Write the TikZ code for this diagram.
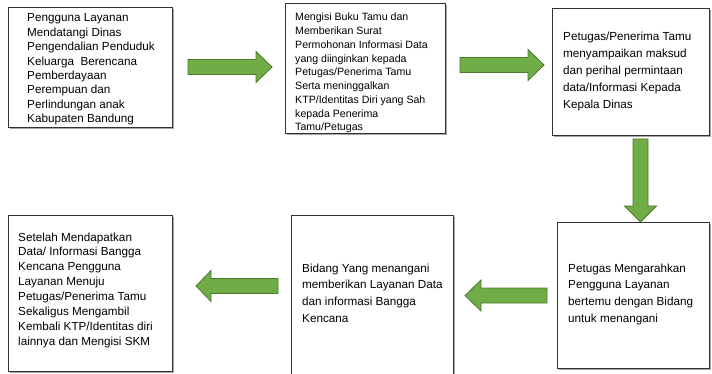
\documentclass[tikz,border=0pt]{standalone}
\usepackage{fontspec}
\setmainfont{Liberation Sans}
\usetikzlibrary{shadows}
\definecolor{agreen}{HTML}{70AD47}
\definecolor{agreenb}{HTML}{4A7A2C}
\definecolor{boxline}{HTML}{333333}
\newcommand\mylines[3]{{\fontsize{#1}{#2}\selectfont\begin{tabular}[t]{@{}l@{}}#3\end{tabular}}}
\begin{document}
\begin{tikzpicture}[x=1pt,y=-1pt,
  box/.style={draw=boxline, line width=0.8pt, fill=white, inner sep=0pt, anchor=north west,
    drop shadow={shadow xshift=1.6pt, shadow yshift=-1.6pt, fill=black, opacity=0.35}},
  txt/.style={anchor=base west, inner sep=0pt},
  barrow/.style={draw=agreenb, fill=agreen, line width=0.8pt, line join=miter}]
\useasboundingbox (0,0) rectangle (712,374);
% boxes
\node[box, minimum width=164pt, minimum height=120pt] (b1) at (8,7) {};
\node[box, minimum width=160pt, minimum height=130pt] (b2) at (285,3) {};
\node[box, minimum width=157pt, minimum height=127pt] (b3) at (552,8) {};
\node[box, minimum width=164pt, minimum height=156pt] (b4) at (8,215) {};
\node[box, minimum width=162pt, minimum height=162pt] (b5) at (291,215) {};
\node[box, minimum width=152pt, minimum height=146pt] (b6) at (557,222) {};
% texts
\node[txt] (t1) at (27,22) {\mylines{11.7}{14.4}{Pengguna Layanan\\Mendatangi Dinas\\Pengendalian Penduduk\\Keluarga~~Berencana\\Pemberdayaan\\Perempuan dan\\Perlindungan anak\\Kabupaten Bandung}};
\node[txt] (t2) at (295,21) {\mylines{10.6}{13.75}{Mengisi Buku Tamu dan\\Memberikan Surat\\Permohonan Informasi Data\\yang diinginkan kepada\\Petugas/Penerima Tamu\\Serta meninggalkan\\KTP/Identitas Diri yang Sah\\kepada Penerima\\Tamu/Petugas}};
\node[txt] (t3) at (563,41) {\mylines{11.7}{17}{Petugas/Penerima Tamu\\menyampaikan maksud\\dan perihal permintaan\\data/Informasi Kepada\\Kepala Dinas}};
\node[txt] (t4) at (18,241) {\mylines{11.7}{14.86}{Setelah Mendapatkan\\Data/ Informasi Bangga\\Kencana Pengguna\\Layanan Menuju\\Petugas/Penerima Tamu\\Sekaligus Mengambil\\Kembali KTP/Identitas diri\\lainnya dan Mengisi SKM}};
\node[txt] (t5) at (302,272) {\mylines{11.7}{16.7}{Bidang Yang menangani\\memberikan Layanan Data\\dan informasi Bangga\\Kencana}};
\node[txt] (t6) at (568,272) {\mylines{11.7}{16.7}{Petugas Mengarahkan\\Pengguna Layanan\\bertemu dengan Bidang\\untuk menangani}};
% block arrows
\draw[barrow] (188,59.5)--(256,59.5)--(256,51.5)--(272,67)--(256,82.5)--(256,74.5)--(188,74.5)--cycle;
\draw[barrow] (460,57.5)--(528,57.5)--(528,49.5)--(544,65)--(528,80.5)--(528,72.5)--(460,72.5)--cycle;
\draw[barrow] (633,139)--(648,139)--(648,206)--(656.5,206)--(640.5,222)--(624.5,206)--(633,206)--cycle;
\draw[barrow] (547,288)--(481,288)--(481,280)--(465,295.5)--(481,311)--(481,303)--(547,303)--cycle;
\draw[barrow] (278,278.5)--(211,278.5)--(211,270.5)--(196,286)--(211,301.5)--(211,293.5)--(278,293.5)--cycle;
\end{tikzpicture}
\end{document}
